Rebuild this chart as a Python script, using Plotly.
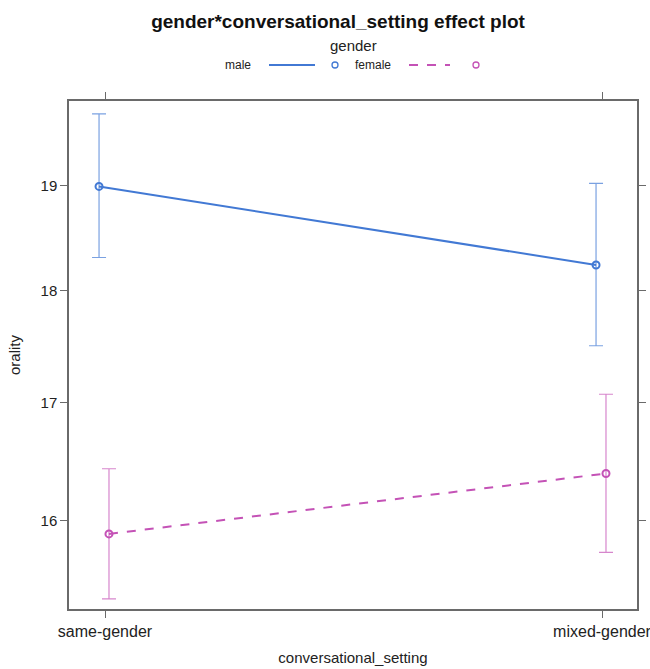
import math
import plotly.graph_objects as go

# ---- data ----
categories = ["same-gender", "mixed-gender"]
male_fit = [18.99, 18.24]
male_lower = [18.31, 17.50]
male_upper = [19.71, 19.02]
female_fit = [15.89, 16.39]
female_lower = [15.37, 15.74]
female_upper = [16.43, 17.07]
y_ticks = [16, 17, 18, 19]

# ---- style ----
BLUE = "#4279d4"
BLUE_EB = "rgba(66,121,212,0.7)"
MAG = "#c452b6"
MAG_EB = "rgba(196,82,182,0.7)"
FONT = "Liberation Sans, Arial, Helvetica, sans-serif"
AXIS_COL = "#6a6a6a"

W, H = 650, 669
L, R, T, B = 69, 637, 101, 609

def px(x):
    return (x - L) / (R - L)

def py(y):
    return (B - y) / (B - T)

xpos = list(range(1, len(categories) + 1))
dodge_m, dodge_f = -0.012, 0.008

fig = go.Figure()
fig.add_trace(go.Scatter(
    x=[v + dodge_m for v in xpos], y=male_fit, mode="lines+markers", name="male",
    line=dict(color=BLUE, width=2),
    marker=dict(symbol="circle-open", size=7, color=BLUE, line=dict(width=2, color=BLUE)),
    error_y=dict(type="data", symmetric=False,
                 array=[u - f for u, f in zip(male_upper, male_fit)],
                 arrayminus=[f - l for f, l in zip(male_fit, male_lower)],
                 color=BLUE_EB, thickness=1.2, width=7),
    showlegend=False,
))
fig.add_trace(go.Scatter(
    x=[v + dodge_f for v in xpos], y=female_fit, mode="lines+markers", name="female",
    line=dict(color=MAG, width=2, dash="dash"),
    marker=dict(symbol="circle-open", size=7, color=MAG, line=dict(width=2, color=MAG)),
    error_y=dict(type="data", symmetric=False,
                 array=[u - f for u, f in zip(female_upper, female_fit)],
                 arrayminus=[f - l for f, l in zip(female_fit, female_lower)],
                 color=MAG_EB, thickness=1.2, width=7),
    showlegend=False,
))

fig.update_xaxes(
    range=[1 - 36 / 497, 2 + 35 / 497],
    tickvals=xpos, ticktext=categories,
    showline=True, mirror="ticks", linecolor=AXIS_COL, linewidth=1.5,
    ticks="outside", ticklen=7, tickcolor=AXIS_COL, tickwidth=1.3,
    showgrid=False, zeroline=False, automargin=False,
    ticklabeloverflow="allow",
    tickfont=dict(family=FONT, size=16, color="#222"),
    title=dict(text="conversational_setting", font=dict(family=FONT, size=15, color="#222"), standoff=14),
)
fig.update_yaxes(
    type="log",
    range=[math.log10(15.29), math.log10(19.84)],
    tickvals=y_ticks, ticktext=[str(v) for v in y_ticks],
    showline=True, mirror="ticks", linecolor=AXIS_COL, linewidth=1.5,
    ticks="outside", ticklen=7, tickcolor=AXIS_COL, tickwidth=1.3,
    showgrid=False, zeroline=False, automargin=False,
    tickfont=dict(family=FONT, size=15, color="#222"),
    title=dict(text="orality", font=dict(family=FONT, size=15, color="#222"), standoff=16),
)

# ---- lattice-style key ----
ann = []
shapes = []
ly = py(65)
ann.append(dict(text="gender", x=px(353), y=py(46), xref="paper", yref="paper",
                showarrow=False, font=dict(family=FONT, size=15, color="#222"),
                xanchor="center", yanchor="middle"))
ann.append(dict(text="male", x=px(253), y=ly, xref="paper", yref="paper",
                showarrow=False, font=dict(family=FONT, size=12, color="#222"),
                xanchor="right", yanchor="middle"))
ann.append(dict(text="female", x=px(353), y=ly, xref="paper", yref="paper",
                showarrow=False, font=dict(family=FONT, size=12, color="#222"),
                xanchor="left", yanchor="middle"))
shapes.append(dict(type="line", xref="paper", yref="paper", x0=px(269), x1=px(315), y0=ly, y1=ly,
                   line=dict(color=BLUE, width=2)))
shapes.append(dict(type="line", xref="paper", yref="paper", x0=px(409), x1=px(450), y0=ly, y1=ly,
                   line=dict(color=MAG, width=2, dash="dash")))
for cx, col in [(335, BLUE), (476, MAG)]:
    shapes.append(dict(type="circle", xref="paper", yref="paper",
                       x0=px(cx - 3), x1=px(cx + 3), y0=py(65 + 3), y1=py(65 - 3),
                       line=dict(color=col, width=1.3)))

fig.update_layout(
    width=W, height=H,
    margin=dict(l=L, r=W - R, t=T, b=H - B),
    paper_bgcolor="white", plot_bgcolor="white",
    title=dict(text="<b>gender*conversational_setting effect plot</b>",
               x=338 / W, xref="container", xanchor="center",
               y=1 - 21 / H, yref="container", yanchor="middle",
               font=dict(family=FONT, size=19, color="#111")),
    annotations=ann, shapes=shapes,
    showlegend=False,
)

fig.write_html(
    "out.html",
    config={"displayModeBar": False},
    post_script="document.body.style.margin='0';document.body.style.overflow='hidden';",
)
